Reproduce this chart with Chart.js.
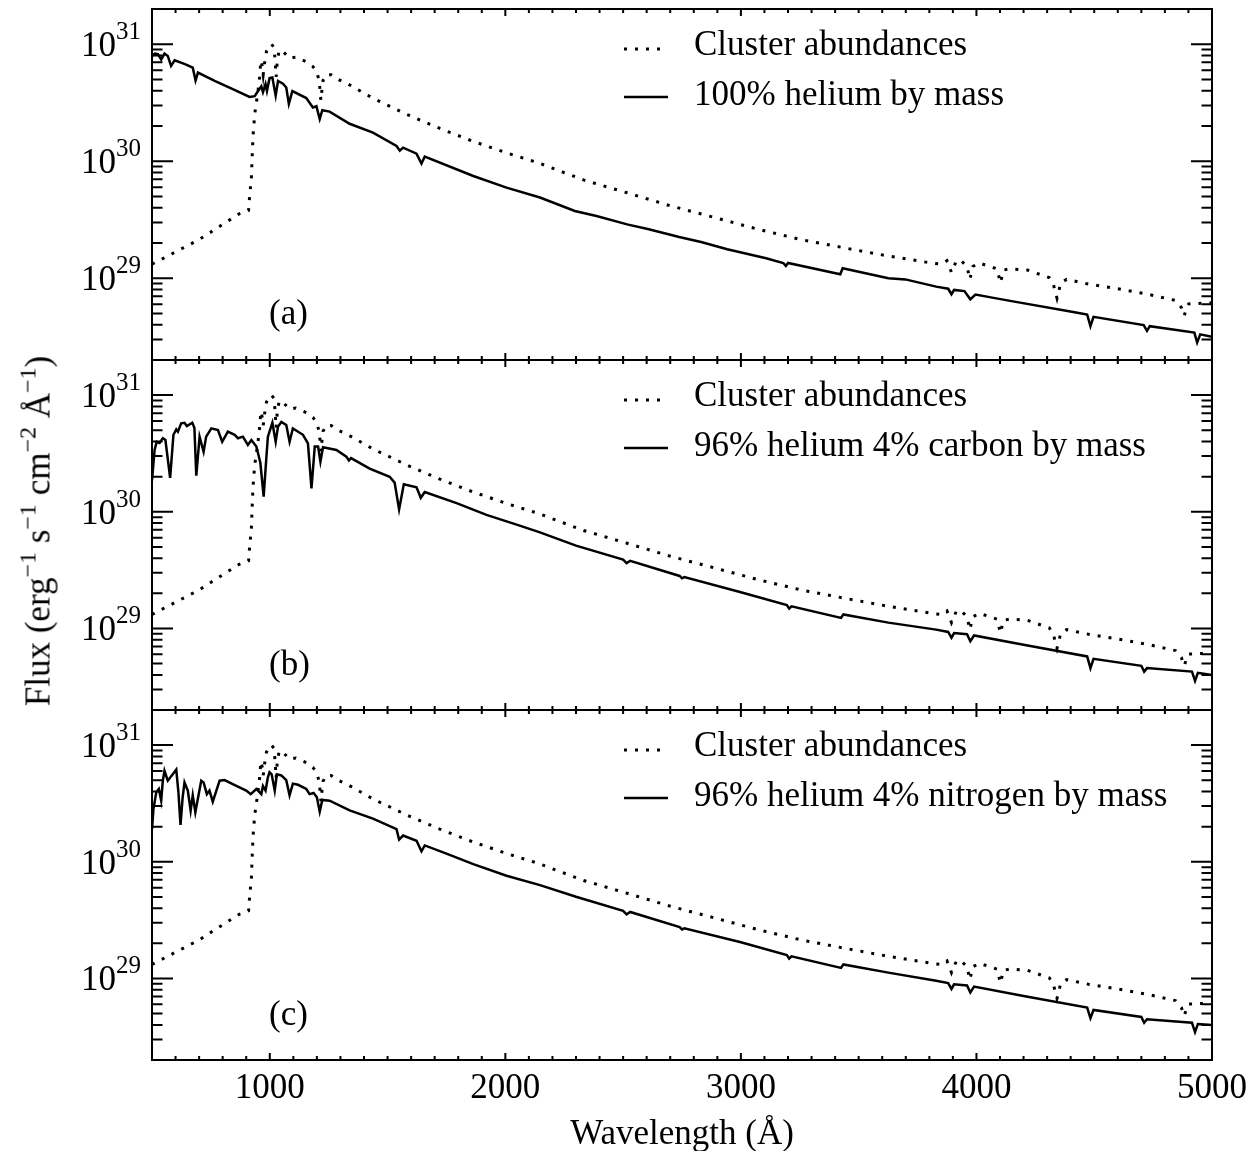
<!DOCTYPE html>
<html>
<head>
<meta charset="utf-8">
<script src="https://cdn.jsdelivr.net/npm/chart.js@4.4.0/dist/chart.umd.min.js"></script>
<style>
  html, body { margin: 0; padding: 0; background: #fff; }
  #wrap { position: relative; width: 1258px; height: 1151px; overflow: hidden; }
  #wrap canvas { position: absolute; left: 0; top: 0; }
  .t { position: absolute; font-family: 'Liberation Serif', 'Times New Roman', serif;
       font-size: 35px; line-height: 1; color: #000; white-space: nowrap; }
  .sp { font-size: 24px; position: relative; top: -14px; }
  #ytitle { left: 38px; top: 531px; transform: translate(-50%, -50%) rotate(-90deg); }
  #xtitle { left: 682px; top: 1115px; transform: translateX(-50%); }
</style>
</head>
<body>
<div id="wrap">
  <canvas id="c0" width="1258" height="1151"></canvas>
  <canvas id="c1" width="1258" height="1151"></canvas>
  <canvas id="c2" width="1258" height="1151"></canvas>
  <div id="ytitle" class="t">Flux (erg<span class="sp">−1</span> s<span class="sp">−1</span> cm<span class="sp">−2</span> Å<span class="sp">−1</span>)</div>
  <div id="xtitle" class="t">Wavelength (Å)</div>
</div>
<script>
// ── Data (wavelength in Å, log10 of flux) ─────────────────────────────
const clusterWave = [500, 700, 800, 870, 910, 914, 922, 925, 929, 936, 943, 950, 957, 962, 967, 972, 978, 986,
  1000, 1008, 1018, 1023, 1027, 1032, 1040, 1060, 1084, 1110, 1155, 1183, 1200, 1208, 1213, 1217, 1221, 1226,
  1240, 1260, 1290, 1332, 1437, 1582, 1722, 1863, 2007, 2135, 2332, 2517, 2699, 2886, 3070, 3256, 3438, 3626,
  3808, 3850, 3875, 3894, 3915, 3935, 3960, 3972, 3985, 4012, 4087, 4102, 4115, 4142, 4216, 4309, 4325, 4342,
  4358, 4383, 4476, 4600, 4734, 4845, 4870, 4882, 4895, 4901, 5000];
const clusterLogFlux = [29.12, 29.33, 29.46, 29.55, 29.58, 29.69, 29.86, 30.03, 30.22, 30.40, 30.50, 30.60, 30.72, 30.86, 30.82, 30.74, 30.84, 30.94,
  30.99, 31.0, 30.97, 30.85, 30.72, 30.86, 30.95, 30.93, 30.88, 30.89, 30.85, 30.81, 30.76, 30.70, 30.62, 30.52, 30.60, 30.69,
  30.74, 30.74, 30.70, 30.66, 30.54, 30.40, 30.28, 30.17, 30.07, 29.99, 29.84, 29.73, 29.62, 29.52, 29.42, 29.33, 29.26, 29.19,
  29.13, 29.12, 29.15, 29.05, 29.15, 29.15, 29.10, 28.99, 29.10, 29.13, 29.08, 28.96, 29.07, 29.08, 29.07, 29.005, 28.96, 28.83,
  28.96, 28.99, 28.95, 28.91, 28.86, 28.81, 28.75, 28.68, 28.76, 28.78, 28.79];

// (a) 100% helium
const heWave = [500, 512, 525, 539, 553, 567, 581, 596, 640, 673, 685, 695, 766, 850, 914, 936, 950, 964, 971, 982,
  988, 999, 1011, 1025, 1035, 1056, 1070, 1081, 1096, 1155, 1169, 1183, 1198, 1212, 1223, 1254, 1339, 1438, 1538,
  1552, 1566, 1623, 1644, 1658, 1864, 2005, 2147, 2295, 2387, 2517, 2609, 2738, 2831, 2942, 3107, 3180, 3191, 3200,
  3422, 3432, 3626, 3698, 3829, 3880, 3894, 3905, 3949, 3974, 3996, 4067, 4161, 4399, 4470, 4484, 4497, 4710, 4724,
  4736, 4925, 4937, 4950, 5000];
const heLogFlux = [30.90, 30.92, 30.915, 30.87, 30.92, 30.90, 30.815, 30.863, 30.83, 30.80, 30.69, 30.757, 30.686, 30.61, 30.55, 30.556, 30.60, 30.64, 30.59, 30.66,
  30.60, 30.71, 30.715, 30.56, 30.686, 30.663, 30.63, 30.49, 30.60, 30.54, 30.50, 30.46, 30.47, 30.36, 30.436, 30.424, 30.32, 30.245, 30.13,
  30.09, 30.116, 30.065, 29.98, 30.04, 29.874, 29.774, 29.69, 29.575, 29.532, 29.46, 29.419, 29.353, 29.31, 29.248, 29.171, 29.13, 29.105, 29.13,
  29.034, 29.085, 29.00, 28.99, 28.928, 28.91, 28.863, 28.90, 28.89, 28.82, 28.86, 28.834, 28.80, 28.715, 28.69, 28.59, 28.67, 28.60, 28.55,
  28.59, 28.535, 28.45, 28.52, 28.50];

// (b) 96% helium 4% carbon
const hecWave = [500, 511, 520, 532, 546, 557, 577, 591, 603, 610, 624, 638, 648, 671, 680, 688, 702, 719, 730, 752,
  780, 798, 822, 851, 865, 886, 907, 922, 943, 960, 974, 985, 992, 1011, 1025, 1035, 1049, 1070, 1084, 1098, 1141,
  1162, 1177, 1191, 1205, 1215, 1226, 1283, 1325, 1336, 1345, 1424, 1509, 1530, 1549, 1569, 1623, 1641, 1658, 1793,
  1920, 2048, 2147, 2300, 2500, 2515, 2530, 2740, 2750, 2760, 3000, 3195, 3205, 3215, 3425, 3435, 3626, 3829, 3880,
  3894, 3905, 3960, 3974, 3990, 4200, 4470, 4484, 4497, 4700, 4712, 4724, 4915, 4928, 4940, 5000];
const hecLogFlux = [30.27, 30.53, 30.60, 30.59, 30.63, 30.615, 30.29, 30.66, 30.707, 30.687, 30.758, 30.763, 30.735, 30.763, 30.72, 30.31, 30.644, 30.515, 30.644, 30.715,
  30.70, 30.60, 30.687, 30.66, 30.63, 30.644, 30.573, 30.615, 30.56, 30.42, 30.13, 30.45, 30.644, 30.763, 30.60, 30.73, 30.77, 30.744, 30.60, 30.715, 30.66,
  30.587, 30.20, 30.56, 30.56, 30.43, 30.553, 30.53, 30.473, 30.44, 30.46, 30.37, 30.30, 30.25, 30.02, 30.235, 30.21, 30.12, 30.17, 30.074,
  29.974, 29.89, 29.823, 29.71, 29.59, 29.56, 29.58, 29.45, 29.43, 29.44, 29.31, 29.20, 29.17, 29.19, 29.09, 29.12, 29.05, 28.99, 28.97,
  28.92, 28.96, 28.95, 28.89, 28.94, 28.86, 28.76, 28.66, 28.74, 28.68, 28.63, 28.66, 28.63, 28.55, 28.62, 28.60];

// (c) 96% helium 4% nitrogen
const henWave = [500, 506, 518, 529, 539, 546, 553, 567, 588, 603, 612, 621, 630, 638, 652, 664, 673, 684, 709, 719,
  733, 744, 758, 787, 808, 858, 900, 919, 943, 964, 971, 982, 992, 999, 1008, 1021, 1030, 1049, 1070, 1084, 1098,
  1120, 1155, 1169, 1186, 1200, 1212, 1223, 1254, 1339, 1438, 1538, 1549, 1566, 1623, 1644, 1658, 1750, 1864, 2005,
  2147, 2300, 2500, 2515, 2530, 2740, 2750, 2760, 3000, 3195, 3205, 3215, 3425, 3435, 3626, 3829, 3880, 3894, 3905,
  3960, 3974, 3990, 4200, 4470, 4484, 4497, 4700, 4712, 4724, 4915, 4928, 4940, 5000];
const henLogFlux = [30.28, 30.45, 30.596, 30.624, 30.524, 30.695, 30.78, 30.695, 30.75, 30.79, 30.60, 30.316, 30.55, 30.68, 30.61, 30.44, 30.57, 30.425, 30.695, 30.68,
  30.58, 30.61, 30.515, 30.695, 30.70, 30.65, 30.61, 30.58, 30.624, 30.58, 30.65, 30.61, 30.724, 30.767, 30.75, 30.61, 30.75, 30.74, 30.70, 30.57, 30.67,
  30.66, 30.624, 30.58, 30.59, 30.553, 30.43, 30.53, 30.524, 30.44, 30.37, 30.28, 30.19, 30.225, 30.18, 30.09, 30.14, 30.07, 29.98, 29.88,
  29.80, 29.70, 29.58, 29.55, 29.57, 29.44, 29.42, 29.43, 29.31, 29.20, 29.17, 29.19, 29.09, 29.12, 29.05, 28.98, 28.96, 28.91, 28.95,
  28.94, 28.88, 28.93, 28.85, 28.75, 28.66, 28.73, 28.67, 28.62, 28.65, 28.62, 28.54, 28.61, 28.60];

const xTickLabels = ['1000', '2000', '3000', '4000', '5000'];
const yDecades = [29, 30, 31];
const panelTags = ['(a)', '(b)', '(c)'];
const solidLabels = ['100% helium by mass', '96% helium 4% carbon by mass', '96% helium 4% nitrogen by mass'];

// ── Layout ───────────────────────────────────────────────────────────
const FONT = "'Liberation Serif', 'Times New Roman', serif";
const panelTops = [9, 360, 710];
const panelHeights = [351, 350, 350];

const toPoints = (w, lf) => w.map((x, i) => ({ x, y: Math.pow(10, lf[i]) }));

// IDL-style frame: inward ticks on all four sides, 10^n labels, legend, tag
const idlFrame = {
  id: 'idlFrame',
  afterDatasetsDraw(chart, args, opts) {
    const { ctx, chartArea: a, scales: { x, y } } = chart;
    ctx.save();
    ctx.strokeStyle = '#000';
    ctx.fillStyle = '#000';
    ctx.lineWidth = 2;
    ctx.setLineDash([]);
    ctx.strokeRect(a.left, a.top, a.right - a.left, a.bottom - a.top);

    ctx.beginPath();
    for (let v = 500; v <= 5000; v += 100) {
      const px = x.getPixelForValue(v);
      const len = v % 1000 === 0 ? 7 : 4;
      ctx.moveTo(px, a.bottom); ctx.lineTo(px, a.bottom - len);
      ctx.moveTo(px, a.top);    ctx.lineTo(px, a.top + len);
    }
    for (let e = 28; e <= 31; e++) {
      for (let m = 1; m <= 9; m++) {
        const v = m * Math.pow(10, e);
        if (v < y.min * 0.999 || v > y.max * 1.001) continue;
        const py = y.getPixelForValue(v);
        const len = m === 1 ? 21 : 10.5;
        ctx.moveTo(a.left, py);  ctx.lineTo(a.left + len, py);
        ctx.moveTo(a.right, py); ctx.lineTo(a.right - len, py);
      }
    }
    ctx.stroke();

    // y labels 10^n
    ctx.textBaseline = 'alphabetic';
    ctx.textAlign = 'left';
    yDecades.forEach(e => {
      const py = y.getPixelForValue(Math.pow(10, e));
      ctx.font = `25px ${FONT}`;
      const ws = ctx.measureText(String(e)).width;
      ctx.font = `35px ${FONT}`;
      const wb = ctx.measureText('10').width;
      const right = 141;
      ctx.fillText('10', right - ws - wb, py + 12);
      ctx.font = `25px ${FONT}`;
      ctx.fillText(String(e), right - ws, py - 5);
    });

    // x labels on the bottom panel only
    if (opts.showX) {
      ctx.font = `35px ${FONT}`;
      ctx.textAlign = 'center';
      xTickLabels.forEach(t => ctx.fillText(t, x.getPixelForValue(Number(t)), 1098));
    }

    // panel tag
    ctx.font = `35px ${FONT}`;
    ctx.textAlign = 'left';
    ctx.fillText(opts.tag, 269, a.top + 315);

    // legend
    const rows = [{ ly: 40, ty: 46 }, { ly: 88, ty: 96 }];
    chart.data.datasets.forEach((ds, i) => {
      const r = rows[i];
      ctx.beginPath();
      ctx.lineWidth = ds.borderWidth;
      ctx.setLineDash(ds.borderDash || []);
      ctx.moveTo(624, a.top + r.ly);
      ctx.lineTo(668, a.top + r.ly);
      ctx.stroke();
      ctx.setLineDash([]);
      ctx.fillText(ds.label, 694, a.top + r.ty);
    });
    ctx.restore();
  }
};

function makePanel(idx, wave, logFlux) {
  const top = panelTops[idx];
  const h = panelHeights[idx];
  return new Chart(document.getElementById('c' + idx), {
    type: 'line',
    data: {
      datasets: [
        {
          label: 'Cluster abundances',
          data: toPoints(clusterWave, clusterLogFlux),
          borderColor: '#000', borderWidth: 3, borderDash: [3, 8],
          pointRadius: 0, fill: false, tension: 0,
        },
        {
          label: solidLabels[idx],
          data: toPoints(wave, logFlux),
          borderColor: '#000', borderWidth: 2.5,
          pointRadius: 0, fill: false, tension: 0,
        },
      ],
    },
    options: {
      responsive: false,
      animation: false,
      events: [],
      layout: { padding: { left: 152, right: 46, top, bottom: 1151 - top - h } },
      plugins: {
        legend: { display: false },
        tooltip: { enabled: false },
        idlFrame: { tag: panelTags[idx], showX: idx === 2 },
      },
      scales: {
        x: { type: 'linear', min: 500, max: 5000, display: false },
        y: { type: 'logarithmic', min: 2e28, max: 2e31, display: false },
      },
    },
    plugins: [idlFrame],
  });
}

makePanel(0, heWave, heLogFlux);
makePanel(1, hecWave, hecLogFlux);
makePanel(2, henWave, henLogFlux);
</script>
</body>
</html>
